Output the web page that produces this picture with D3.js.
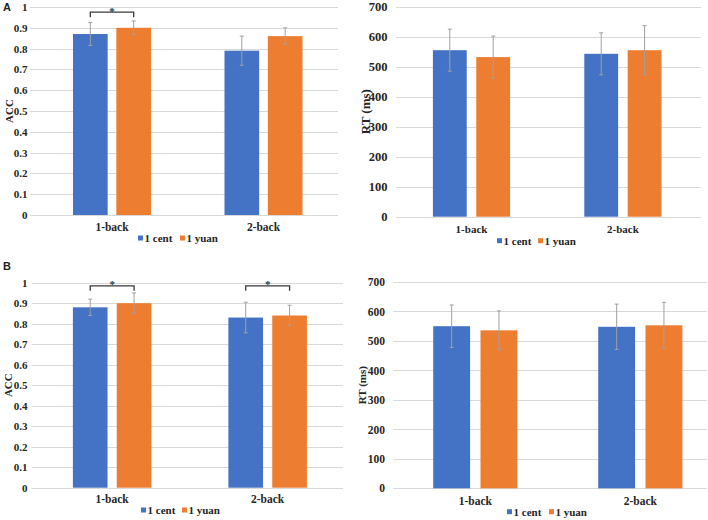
<!DOCTYPE html>
<html><head><meta charset="utf-8">
<script src="https://cdn.jsdelivr.net/npm/d3@7"></script>
<style>body{margin:0;background:#fff}svg{display:block}</style>
</head><body>
<svg id="c" width="708" height="520"></svg>
<script>
// ---- data ----
const categories = ["1-back", "2-back"];
const seriesNames = ["1 cent", "1 yuan"];
const colors = ["#4472C4", "#ED7D31"];

// Panel A
const accA_cent = [0.87, 0.79];
const accA_yuan = [0.90, 0.86];
const accA_cent_err = [0.055, 0.07];
const accA_yuan_err = [0.033, 0.04];
const rtA_cent = [555, 543];
const rtA_yuan = [532, 555];
const rtA_cent_err = [70, 70];
const rtA_yuan_err = [70, 82];
const sigA = ["1-back"];

// Panel B
const accB_cent = [0.88, 0.83];
const accB_yuan = [0.90, 0.84];
const accB_cent_err = [0.04, 0.075];
const accB_yuan_err = [0.05, 0.05];
const rtB_cent = [550, 548];
const rtB_yuan = [536, 553];
const rtB_cent_err = [72, 77];
const rtB_yuan_err = [66, 78];
const sigB = ["1-back", "2-back"];

const accTicks = [0,0.1,0.2,0.3,0.4,0.5,0.6,0.7,0.8,0.9,1];
const rtTicks = [0,100,200,300,400,500,600,700];

const svg = d3.select("#c");
const serif = "Liberation Serif, Times New Roman, serif";

function panel(o) {
  const g = svg.append("g");
  const y = d3.scaleLinear().domain(o.domain).range([o.y0, o.y1]);
  const x = d3.scaleBand().domain(categories).range(o.band).paddingInner(o.pad).paddingOuter(o.pad/2);
  const xs = d3.scaleBand().domain(seriesNames).range([0, x.bandwidth()]).paddingInner(o.gap);

  // grid
  g.selectAll("line.grid").data(o.ticks).join("line")
    .attr("x1", o.grid[0]).attr("x2", o.grid[1])
    .attr("y1", d => Math.round(y(d)) + 0.5).attr("y2", d => Math.round(y(d)) + 0.5)
    .attr("stroke", "#d9d9d9").attr("stroke-width", 1);

  // y axis labels via d3 axis
  const ax = g.append("g").attr("transform", `translate(${o.labelX},0)`)
    .call(d3.axisLeft(y).tickValues(o.ticks).tickSize(0).tickPadding(0).tickFormat(o.fmt));
  ax.attr("font-family", null).attr("font-size", null);
  ax.select(".domain").remove();
  ax.selectAll("text").style("font-family", serif).style("font-weight", "bold")
    .style("font-size", o.tickFs + "px").attr("fill", "#262626");

  // axis title
  g.append("text").attr("transform", `translate(${o.titleX},${(o.y0+o.y1)/2}) rotate(-90)`)
    .attr("text-anchor", "middle").attr("dy", "0.35em")
    .style("font-family", serif).style("font-weight", "bold").style("font-size", o.titleFs + "px")
    .attr("fill", "#262626").text(o.title);

  // bars
  const rows = [];
  categories.forEach((c, i) => {
    o.vals.forEach((arr, s) => rows.push({c, s, v: arr[i], e: o.errs[s][i]}));
  });
  const bx = d => x(d.c) + xs(seriesNames[d.s]);
  g.selectAll("rect.bar").data(rows).join("rect")
    .attr("x", bx).attr("width", xs.bandwidth())
    .attr("y", d => y(d.v)).attr("height", d => y(0) - y(d.v))
    .attr("fill", d => colors[d.s]);

  // error bars
  const eb = g.selectAll("g.eb").data(rows).join("g");
  const cx = d => bx(d) + xs.bandwidth()/2;
  eb.append("line").attr("x1", cx).attr("x2", cx)
    .attr("y1", d => y(d.v + d.e)).attr("y2", d => y(d.v - d.e))
    .attr("stroke", "#a0a0a0").attr("stroke-width", 1);
  [1, -1].forEach(sg => {
    eb.append("line").attr("x1", d => cx(d) - 2).attr("x2", d => cx(d) + 2)
      .attr("y1", d => y(d.v + sg*d.e)).attr("y2", d => y(d.v + sg*d.e))
      .attr("stroke", "#a0a0a0").attr("stroke-width", 1);
  });

  // significance brackets
  (o.sig || []).forEach(c => {
    const xa = x(c) + xs(seriesNames[0]) + xs.bandwidth()/2;
    const xb = x(c) + xs(seriesNames[1]) + xs.bandwidth()/2;
    const yb = y(o.sigLevel);
    g.append("path").attr("d", `M${xa},${yb+5}V${yb}H${xb}V${yb+5}`)
      .attr("fill", "none").attr("stroke", "#3a3a3a").attr("stroke-width", 1.3);
    g.append("text").attr("x", (xa+xb)/2).attr("y", yb + 2.5).attr("text-anchor", "middle")
      .style("font-family", serif).style("font-weight", "bold").style("font-size", "11px")
      .attr("fill", "#333").text("*");
  });

  // category labels
  g.selectAll("text.cat").data(categories).join("text")
    .attr("x", d => x(d) + x.bandwidth()/2).attr("y", o.catY).attr("dy", "0.35em")
    .attr("text-anchor", "middle").style("font-family", serif).style("font-weight", "bold")
    .style("font-size", o.catFs + "px").attr("fill", "#262626").text(d => d);

  // legend
  seriesNames.forEach((s, i) => {
    const lx = o.legX[i];
    g.append("rect").attr("x", lx).attr("y", o.legY - 2.5).attr("width", 5).attr("height", 5).attr("fill", colors[i]);
    g.append("text").attr("x", lx + 6.5).attr("y", o.legY).attr("dy", "0.35em")
      .style("font-family", serif).style("font-weight", "bold").style("font-size", o.legFs + "px")
      .attr("fill", "#262626").text(s);
  });
}

const fmtAcc = d => d === 0 ? "0" : d === 1 ? "1" : d3.format(".1f")(d);

panel({domain:[0,1], y0:215, y1:7, grid:[30,338], band:[36.25,339.25], pad:0.485, gap:0.2,
  ticks:accTicks, fmt:fmtAcc, labelX:27.5, tickFs:11, title:"ACC", titleX:9, titleFs:11,
  vals:[accA_cent, accA_yuan], errs:[accA_cent_err, accA_yuan_err], sig:sigA, sigLevel:0.975,
  catY:227, catFs:11.5, legX:[138,180], legY:238, legFs:11});

panel({domain:[0,700], y0:216.7, y1:6.7, grid:[396,701], band:[395.8,698.6], pad:0.49, gap:0.22,
  ticks:rtTicks, fmt:d3.format("d"), labelX:387.5, tickFs:12.5, title:"RT (ms)", titleX:365, titleFs:13,
  vals:[rtA_cent, rtA_yuan], errs:[rtA_cent_err, rtA_yuan_err], sig:[],
  catY:228.7, catFs:11, legX:[497,538], legY:240.7, legFs:11});

panel({domain:[0,1], y0:487.7, y1:282.7, grid:[31.7,343], band:[34.4,345.4], pad:0.495, gap:0.21,
  ticks:accTicks, fmt:fmtAcc, labelX:27.5, tickFs:11, title:"ACC", titleX:8, titleFs:11,
  vals:[accB_cent, accB_yuan], errs:[accB_cent_err, accB_yuan_err], sig:sigB, sigLevel:0.985,
  catY:499, catFs:11.5, legX:[141,182], legY:510, legFs:11});

panel({domain:[0,700], y0:488.3, y1:282, grid:[393.3,707], band:[392.8,722.8], pad:0.49, gap:0.22,
  ticks:rtTicks, fmt:d3.format("d"), labelX:385, tickFs:11.5, title:"RT (ms)", titleX:362, titleFs:11,
  vals:[rtB_cent, rtB_yuan], errs:[rtB_cent_err, rtB_yuan_err], sig:[],
  catY:500.7, catFs:11.5, legX:[507,549], legY:511.7, legFs:11});

// panel letters
[["A", 3, 11], ["B", 3, 270]].forEach(([t, lx, ly]) => {
  svg.append("text").attr("x", lx).attr("y", ly)
    .style("font-family", "Liberation Sans, Arial, sans-serif")
    .style("font-weight", "bold").style("font-size", "11px").attr("fill", "#222").text(t);
});
</script>
</body></html>
